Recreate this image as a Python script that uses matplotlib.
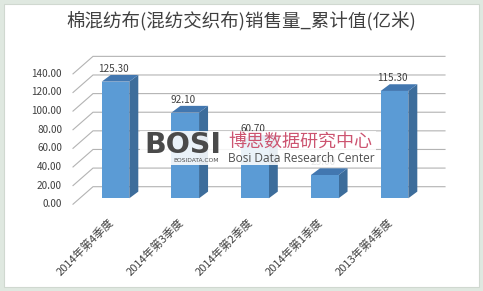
import matplotlib
matplotlib.use("Agg")
import matplotlib.pyplot as plt
from matplotlib.patches import Polygon, Rectangle

plt.rcParams['font.family'] = ['Noto Sans CJK SC', 'DejaVu Sans']

title = "棉混纺布(混纺交织布)销售量_累计值(亿米)"
categories = ["2014年第4季度", "2014年第3季度", "2014年第2季度", "2014年第1季度", "2013年第4季度"]
values = [125.30, 92.10, 60.70, 25.00, 115.30]
yticks = [0, 20, 40, 60, 80, 100, 120, 140]

W, H = 483, 291
fig = plt.figure(figsize=(W / 100, H / 100), dpi=100)
fig.patch.set_facecolor('#dfe8e0')
ax = fig.add_axes([0, 0, 1, 1])
ax.axis('off')

# pixel-calibrated data mapping
X0, XS = 115.5, 69.75      # pixel x of category 0, px per category
Y0, YS = 198.3, 0.931      # pixel y of value 0, px per unit
ax.set_xlim(-X0 / XS, (W - X0) / XS)
ax.set_ylim((Y0 - H) / YS, Y0 / YS)

def px_x(p):  # pixel x -> data x
    return (p - X0) / XS

def dpx_x(d):
    return d / XS

def dpx_y(d):  # pixel delta (upwards) -> value delta
    return d / YS

# white panel
ax.add_patch(Rectangle((px_x(3.5), (Y0 - 287) / YS), dpx_x(476), dpx_y(283.5),
                       facecolor='white', edgecolor='#d0d8d0', lw=0.8, zorder=0))

# back wall gridlines with slanted floor lines
back_dv = dpx_y(11.6)
wall_l, wall_r = px_x(95), px_x(445)
slant_x = px_x(73)
slant_dv = dpx_y(17.5)
for v in yticks:
    yb = v + back_dv
    ax.plot([slant_x, wall_l - dpx_x(2), wall_r], [yb - slant_dv, yb, yb],
            color='#b3b3b3', lw=0.8, zorder=1, solid_joinstyle='miter')
    ax.text(px_x(62), yb - slant_dv, f"{v:.2f}", ha='right', va='center',
            fontsize=7.2, color='#404040', zorder=5)

# 3D bars
hw = dpx_x(13.8)
ddx, ddv = dpx_x(9), dpx_y(6.7)
front_c, side_c, top_c = '#5b9bd5', '#3d6d9b', '#4277b0'
for i, v in enumerate(values):
    x1, x2 = i - hw, i + hw
    ax.add_patch(Polygon([(x2, 0), (x2 + ddx, ddv), (x2 + ddx, v + ddv), (x2, v)],
                         closed=True, facecolor=side_c, edgecolor='none', zorder=2))
    ax.add_patch(Polygon([(x1, v), (x2, v), (x2 + ddx, v + ddv), (x1 + ddx, v + ddv)],
                         closed=True, facecolor=top_c, edgecolor='none', zorder=2))
    ax.add_patch(Rectangle((x1, 0), 2 * hw, v, facecolor=front_c, edgecolor='none', zorder=3))
    ax.text(i - dpx_x(2), v + ddv + dpx_y(1), f"{v:.2f}", ha='center', va='bottom',
            fontsize=7.2, color='#404040', zorder=5)

# category labels
for i, c in enumerate(categories):
    ax.text(i - dpx_x(4), -dpx_y(22), c, rotation=45, rotation_mode='anchor',
            ha='right', va='center', fontsize=8, color='#404040', zorder=5)

# title
ax.text(px_x(241.5), (Y0 - 22) / YS, title, ha='center', va='center',
        fontsize=13.3, color='#404040', zorder=5)

# watermark
ax.add_patch(Rectangle((px_x(140), (Y0 - 165) / YS), dpx_x(236), dpx_y(34),
                       facecolor='white', edgecolor='none', alpha=0.88, zorder=6))
ax.text(px_x(144), (Y0 - 145) / YS, "BOSI", ha='left', va='center', fontsize=20.5,
        fontweight='bold', color='#4a4a4a', family='DejaVu Sans', zorder=7)
ax.text(px_x(173), (Y0 - 160.5) / YS, "BOSIDATA.COM", ha='left', va='center', fontsize=4.3,
        color='#4a4a4a', family='DejaVu Sans', zorder=7)
ax.text(px_x(228), (Y0 - 142) / YS, "博思数据研究中心", ha='left', va='center', fontsize=13,
        color='#cc5470', zorder=7)
ax.text(px_x(228), (Y0 - 158) / YS, "Bosi Data Research Center", ha='left', va='center',
        fontsize=8.6, color='#505050', family=['Open Sans', 'DejaVu Sans'], zorder=7)

fig.savefig("out.png", dpi=100, facecolor=fig.get_facecolor())
